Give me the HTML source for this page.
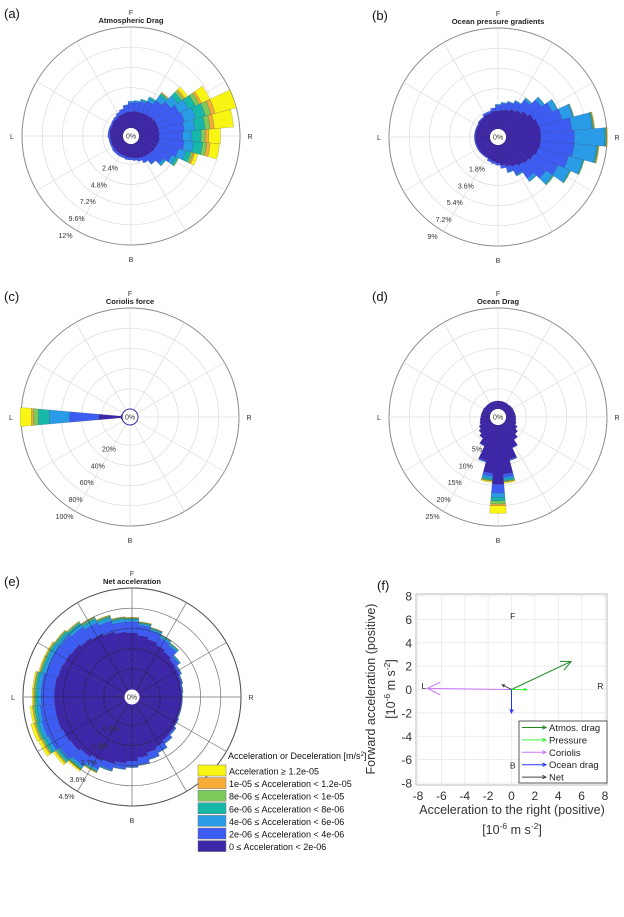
<!DOCTYPE html>
<html><head><meta charset="utf-8">
<style>
html,body{margin:0;padding:0;background:#fff;}
svg{display:block;font-family:"Liberation Sans",Arial,sans-serif;}
</style></head>
<body>
<svg id="fig" width="624" height="917" viewBox="0 0 624 917">
  <g id="roses"></g>
  <g id="legend"></g>
  <g id="panelf"></g>
</svg>
<script>
// ---------- data ----------
const classColors = ["#3e26a8","#3d5cf2","#2a9be6","#17b7aa","#7dca5a","#f5ad37","#f8f514"];
const classLabels = ["Acceleration \u2265 1.2e-05","1e-05 \u2264 Acceleration < 1.2e-05","8e-06 \u2264 Acceleration < 1e-05","6e-06 \u2264 Acceleration < 8e-06","4e-06 \u2264 Acceleration < 6e-06","2e-06 \u2264 Acceleration < 4e-06","0 \u2264 Acceleration < 2e-06"];
const binCenters = [0,10,20,30,40,50,60,70,80,90,100,110,120,130,140,150,160,170,180,190,200,210,220,230,240,250,260,270,280,290,300,310,320,330,340,350];

// Panel a (percent per class per bin: dark, blue, lightblue, teal, green, orange, yellow)
const a0=[1.9,2,2,2.1,2.2,2.3,2.4,2.4,2.4,2.4,2.4,2.3,2.2,2.1,2,1.9,1.8,1.7,1.6,1.6,1.5,1.5,1.5,1.5,1.5,1.5,1.5,1.5,1.6,1.6,1.6,1.7,1.7,1.8,1.8,1.9];
const a1=[1.1,1.1,1.3,1.5,2,2.5,3,3.2,3,2.8,3,2.6,2.2,1.6,1.1,0.7,0.4,0.3,0.3,0.3,0.3,0.3,0.3,0.3,0.2,0.2,0.2,0.3,0.2,0.2,0.2,0.2,0.3,0.4,0.6,0.8];
const a2=[0.2,0.2,0.2,0.4,0.7,1,1.2,1.4,1.3,1.1,1.1,0.9,0.5,0.3,0.1,0,0,0,0,0,0,0,0,0,0,0,0,0,0,0,0,0,0,0,0,0.1];
const a3=[0,0,0.1,0.2,0.3,0.6,0.9,1.2,1.2,1.1,1.1,0.6,0.3,0.1,0,0,0,0,0,0,0,0,0,0,0,0,0,0,0,0,0,0,0,0,0,0];
const a4=[0,0,0,0,0.1,0.3,0.5,0.7,0.6,0.5,0.5,0.3,0.1,0,0,0,0,0,0,0,0,0,0,0,0,0,0,0,0,0,0,0,0,0,0,0];
const a5=[0,0,0,0,0.1,0.2,0.3,0.5,0.5,0.4,0.4,0.2,0,0,0,0,0,0,0,0,0,0,0,0,0,0,0,0,0,0,0,0,0,0,0,0];
const a6=[0,0,0,0,0,0.4,1.1,2.6,2.3,1.4,1.1,0.4,0,0,0,0,0,0,0,0,0,0,0,0,0,0,0,0,0,0,0,0,0,0,0,0];
// Panel b
const b0=[1.6,1.7,1.8,2,2.2,2.5,2.8,3,3.1,3.1,3.1,3,2.8,2.6,2.4,2.2,2,1.8,1.6,1.5,1.4,1.3,1.3,1.3,1.3,1.3,1.3,1.3,1.3,1.3,1.3,1.4,1.4,1.5,1.5,1.6];
const b1=[0.5,0.6,0.7,0.8,1.1,1.5,1.8,2.2,2.8,3,3,2.8,2.4,1.9,1.4,0.8,0.5,0.3,0.2,0.2,0.2,0.1,0.1,0.1,0.1,0.1,0.1,0.1,0.1,0.1,0.1,0.1,0.1,0.2,0.2,0.3];
const b2=[0.1,0.1,0.1,0.1,0.2,0.3,0.5,1,1.8,2.7,2,1.3,1.1,0.7,0.3,0.1,0.1,0,0,0,0,0,0,0,0,0,0,0,0,0,0,0,0,0,0,0];
const b3=[0,0,0,0,0.05,0.05,0.05,0.05,0.1,0.1,0.1,0.1,0.1,0.1,0.05,0.05,0,0,0,0,0,0,0,0,0,0,0,0,0,0,0,0,0,0,0,0];
const b4=[0,0,0,0,0,0,0,0.05,0.05,0.05,0.05,0.05,0.05,0.05,0,0,0,0,0,0,0,0,0,0,0,0,0,0,0,0,0,0,0,0,0,0];
const b5=[0,0,0,0,0,0,0,0,0.05,0.05,0.05,0,0,0,0,0,0,0,0,0,0,0,0,0,0,0,0,0,0,0,0,0,0,0,0,0];
const b6=[0,0,0,0,0,0,0,0,0.05,0.05,0.05,0,0,0,0,0,0,0,0,0,0,0,0,0,0,0,0,0,0,0,0,0,0,0,0,0];
// Panel c
const c0=[0,0,0,0,0,0,0,0,0,0,0,0,0,0,0,0,0,0,0,0,0,0,0,0,0,0,1.2,23,1.2,0,0,0,0,0,0,0];
const c1=[0,0,0,0,0,0,0,0,0,0,0,0,0,0,0,0,0,0,0,0,0,0,0,0,0,0,0,29,0,0,0,0,0,0,0,0];
const c2=[0,0,0,0,0,0,0,0,0,0,0,0,0,0,0,0,0,0,0,0,0,0,0,0,0,0,0,20,0,0,0,0,0,0,0,0];
const c3=[0,0,0,0,0,0,0,0,0,0,0,0,0,0,0,0,0,0,0,0,0,0,0,0,0,0,0,11,0,0,0,0,0,0,0,0];
const c4=[0,0,0,0,0,0,0,0,0,0,0,0,0,0,0,0,0,0,0,0,0,0,0,0,0,0,0,5,0,0,0,0,0,0,0,0];
const c5=[0,0,0,0,0,0,0,0,0,0,0,0,0,0,0,0,0,0,0,0,0,0,0,0,0,0,0,2,0,0,0,0,0,0,0,0];
const c6=[0,0,0,0,0,0,0,0,0,0,0,0,0,0,0,0,0,0,0,0,0,0,0,0,0,0,0,11,0,0,0,0,0,0,0,0];
// Panel d
const d0=[2,2,2,2,2,2.1,2.2,2.2,2.3,2.4,2.5,2.7,3.2,3.9,4.8,6.3,8.8,12.2,14.7,12,9.2,5.8,4.4,3.7,3.1,2.7,2.5,2.3,2.2,2.1,2.1,2,2,2,2,2];
const d1=[0,0,0,0,0,0,0,0,0,0,0,0,0.1,0.1,0.1,0.2,0.3,0.8,2.2,0.8,0.3,0.2,0.1,0.1,0.1,0,0,0,0,0,0,0,0,0,0,0];
const d2=[0,0,0,0,0,0,0,0,0,0,0,0,0,0,0,0,0.1,0.5,1.1,0.5,0.1,0,0,0,0,0,0,0,0,0,0,0,0,0,0,0];
const d3=[0,0,0,0,0,0,0,0,0,0,0,0,0,0,0,0,0,0.4,0.8,0.4,0,0,0,0,0,0,0,0,0,0,0,0,0,0,0,0];
const d4=[0,0,0,0,0,0,0,0,0,0,0,0,0,0,0,0,0,0.2,0.8,0.2,0,0,0,0,0,0,0,0,0,0,0,0,0,0,0,0];
const d5=[0,0,0,0,0,0,0,0,0,0,0,0,0,0,0,0,0,0.1,0.4,0.1,0,0,0,0,0,0,0,0,0,0,0,0,0,0,0,0];
const d6=[0,0,0,0,0,0,0,0,0,0,0,0,0,0,0,0,0,0.3,1.9,0.3,0,0,0,0,0,0,0,0,0,0,0,0,0,0,0,0];
// Panel e
const e0=[2.5,2.4,2.3,2.2,2.1,2.0,1.95,1.9,1.85,1.85,1.85,1.85,1.9,1.95,2.0,2.1,2.2,2.35,2.5,2.6,2.7,2.8,2.9,3.0,3.05,3.1,3.1,3.1,3.1,3.05,3.0,2.95,2.85,2.75,2.65,2.55];
const e1=[0.5,0.45,0.4,0.35,0.35,0.2,0.1,0.05,0.05,0.03,0.03,0.03,0.03,0.07,0.15,0.25,0.3,0.3,0.25,0.25,0.3,0.4,0.5,0.55,0.7,0.7,0.65,0.6,0.6,0.55,0.6,0.6,0.6,0.55,0.5,0.45];
const e2=[0.1,0.08,0.08,0.08,0.08,0.05,0.03,0.03,0.02,0.02,0.02,0.02,0.02,0.02,0.03,0.03,0.03,0.03,0.03,0.03,0.05,0.08,0.1,0.12,0.15,0.15,0.15,0.15,0.15,0.15,0.15,0.15,0.15,0.15,0.14,0.12];
const e3=[0.04,0.04,0.04,0.04,0.04,0.03,0.01,0.01,0.01,0,0,0,0,0.01,0.01,0.01,0.01,0.01,0.01,0.01,0.02,0.04,0.06,0.08,0.1,0.1,0.1,0.1,0.1,0.09,0.09,0.09,0.09,0.08,0.07,0.06];
const e4=[0.02,0.02,0.02,0.02,0.02,0.01,0,0,0,0,0,0,0,0,0,0,0,0,0,0,0.01,0.02,0.04,0.05,0.06,0.06,0.06,0.05,0.05,0.04,0.04,0.04,0.04,0.03,0.03,0.02];
const e5=[0.02,0.01,0.01,0.01,0.01,0,0,0,0,0,0,0,0,0,0,0,0,0,0,0,0,0.02,0.03,0.04,0.05,0.05,0.04,0.04,0.03,0.03,0.03,0.02,0.02,0.02,0.02,0.02];
const e6=[0.02,0.02,0.01,0,0,0,0,0,0,0,0,0,0,0,0,0,0,0,0,0,0,0.03,0.07,0.1,0.14,0.15,0.1,0.06,0.06,0.05,0.04,0.02,0.02,0.02,0.02,0.02];

const ringTicksA=["2.4%","4.8%","7.2%","9.6%","12%"];
const ringTicksB=["1.8%","3.6%","5.4%","7.2%","9%"];
const ringTicksC=["20%","40%","60%","80%","100%"];
const ringTicksD=["5%","10%","15%","20%","25%"];
const ringTicksE=["0.9%","1.8%","2.7%","3.6%","4.5%"];
const ringMax=[12,9,100,25,4.5];

// Panel f vectors (10^-6 m s^-2)
const vecNames=["Atmos. drag","Pressure","Coriolis","Ocean drag","Net"];
const vecX=[5.1,1.3,-7.2,0,-0.8];
const vecY=[2.4,0,0.1,-2.0,0.4];
const vecColors=["#1f8a22","#3cf03c","#cc77ff","#2233ff","#444444"];
const fTicks=[-8,-6,-4,-2,0,2,4,6,8];

// ---------- drawing ----------
const NS="http://www.w3.org/2000/svg";
function mk(tag,parent){const e=document.createElementNS(NS,tag);parent.appendChild(e);return e;}
function pt(cx,cy,r,deg){const t=deg*Math.PI/180;return [cx+r*Math.sin(t),cy-r*Math.cos(t)];}
function sector(cx,cy,r0,r1,a0,a1){
  const p1=pt(cx,cy,r1,a0),p2=pt(cx,cy,r1,a1),p3=pt(cx,cy,r0,a1),p4=pt(cx,cy,r0,a0);
  return `M${p1[0]},${p1[1]}A${r1},${r1} 0 0 1 ${p2[0]},${p2[1]}L${p3[0]},${p3[1]}A${r0},${r0} 0 0 0 ${p4[0]},${p4[1]}Z`;
}
const roses=document.getElementById('roses');
const panels=[
 {id:"a",cx:131,cy:136,title:"Atmospheric Drag",cls:[a0,a1,a2,a3,a4,a5,a6],ticks:ringTicksA,max:ringMax[0],lx:4,ly:18,gridTop:false},
 {id:"b",cx:498,cy:137,title:"Ocean pressure gradients",cls:[b0,b1,b2,b3,b4,b5,b6],ticks:ringTicksB,max:ringMax[1],lx:372,ly:20,gridTop:false},
 {id:"c",cx:130,cy:417,title:"Coriolis force",cls:[c0,c1,c2,c3,c4,c5,c6],ticks:ringTicksC,max:ringMax[2],lx:4,ly:301,gridTop:false},
 {id:"d",cx:498,cy:417,title:"Ocean Drag",cls:[d0,d1,d2,d3,d4,d5,d6],ticks:ringTicksD,max:ringMax[3],lx:372,ly:301,gridTop:false},
 {id:"e",cx:132,cy:697,title:"Net acceleration",cls:[e0,e1,e2,e3,e4,e5,e6],ticks:ringTicksE,max:ringMax[4],lx:4,ly:586,gridTop:true}
];
const R=109, HOLE=8;
panels.forEach(P=>{
  const g=mk('g',roses);
  
  
  const scale=v=>v/P.max*(R-HOLE);
  function grid(parent,color,outer){
    for(let k=1;k<=5;k++){
      const c=mk('circle',parent);
      c.setAttribute('cx',P.cx);c.setAttribute('cy',P.cy);c.setAttribute('r',HOLE+k*(R-HOLE)/5);
      c.setAttribute('fill','none');c.setAttribute('stroke',(k==5&&outer)?'#8a8a8a':color);c.setAttribute('stroke-width',k==5?1:0.7);
      
      
    }
    for(let a=0;a<360;a+=30){
      const p0=pt(P.cx,P.cy,HOLE,a),p1=pt(P.cx,P.cy,R,a);
      const l=mk('line',parent);
      l.setAttribute('x1',p0[0]);l.setAttribute('y1',p0[1]);l.setAttribute('x2',p1[0]);l.setAttribute('y2',p1[1]);
      l.setAttribute('stroke',color);l.setAttribute('stroke-width',0.7);
      
      
    }
  }
  const gg=mk('g',g);  
  grid(gg,'#dcdcdc',true);
  const bars=mk('g',g);  
  binCenters.forEach((ang,i)=>{
    let cum=0;
    P.cls.forEach((arr,k)=>{
      const v=arr[i]; if(!v) return;
      const r0=HOLE+scale(cum), r1=HOLE+scale(cum+v); cum+=v;
      const s=mk('path',bars);
      s.setAttribute('d',sector(P.cx,P.cy,r0,r1,ang-5,ang+5));
      s.setAttribute('fill',classColors[k]);
      s.setAttribute('stroke','rgba(30,20,60,0.35)');s.setAttribute('stroke-width',0.4);
      
      
    });
  });
  if(P.gridTop){const gt=mk('g',g);gt.setAttribute('opacity','0.55');grid(gt,'#222',false);}
  const hole=mk('circle',g);
  hole.setAttribute('cx',P.cx);hole.setAttribute('cy',P.cy);hole.setAttribute('r',HOLE);
  hole.setAttribute('fill','#fff');hole.setAttribute('stroke',(P.id=='c'||P.id=='e')?'#3e26a8':'none');
  
  
  function txt(x,y,s,size,extra){const t=mk('text',g);t.setAttribute('x',x);t.setAttribute('y',y);t.setAttribute('font-size',size);t.setAttribute('fill','#333');t.setAttribute('text-anchor','middle');if(extra)for(const k in extra)t.setAttribute(k,extra[k]);t.textContent=s;return t;}
  let t=txt(P.cx,P.cy+2.5,"0%",7);  
  t=txt(P.cx,P.cy-R-12,"F",7);  
  t=txt(P.cx,P.cy+R+17,"B",7);  
  t=txt(P.cx-R-10,P.cy+3,"L",7);  
  t=txt(P.cx+R+10,P.cy+3,"R",7);  
  t=txt(P.cx,P.cy-R-4,P.title,7.5,{'font-weight':'bold','fill':'#222'});  
  t=txt(P.lx,P.ly,"("+P.id+")",13,{'text-anchor':'start','fill':'#111'});  
  P.ticks.forEach((s,k)=>{
    const rr=HOLE+(k+1)*(R-HOLE)/5+10;
    const p=[P.cx-0.55*rr,P.cy+0.83*rr];
    const tt=txt(p[0],p[1]+3,s,7);
    
    
  });
});

// legend
const lg=document.getElementById('legend');
(function(){
  const t=mk('text',lg);t.setAttribute('x',228);t.setAttribute('y',759);t.setAttribute('font-size',9);t.setAttribute('fill','#111');
  t.innerHTML='Acceleration or Deceleration [m/s<tspan dy="-3" font-size="6">2</tspan><tspan dy="3">]</tspan>';
  
  
  classLabels.forEach((s,k)=>{
    const y=765+k*12.6;
    const col=classColors[6-k];
    const r=mk('rect',lg);r.setAttribute('x',198);r.setAttribute('y',y);r.setAttribute('width',28);r.setAttribute('height',11);
    r.setAttribute('fill',col);r.setAttribute('stroke','#777');r.setAttribute('stroke-width',0.5);
    
    
    const tx=mk('text',lg);tx.setAttribute('x',229);tx.setAttribute('y',y+9.5);tx.setAttribute('font-size',9);tx.setAttribute('fill','#111');tx.textContent=s;
    
    
  });
})();

// panel f
const pf=document.getElementById('panelf');
(function(){
  const X0=418,X1=605,Y0=783,Y1=596;
  const sx=v=>X0+(v+8)/16*(X1-X0), sy=v=>Y0-(v+8)/16*(Y0-Y1);
  const bg=mk('rect',pf);bg.setAttribute('x',X0-2);bg.setAttribute('y',Y1-2);bg.setAttribute('width',X1-X0+4);bg.setAttribute('height',Y0-Y1+4);
  bg.setAttribute('fill','#fff');bg.setAttribute('stroke','#bbb');bg.setAttribute('stroke-width',1);
  
  
  fTicks.forEach(v=>{
    let l=mk('line',pf);l.setAttribute('x1',sx(v));l.setAttribute('x2',sx(v));l.setAttribute('y1',Y1-2);l.setAttribute('y2',Y0+2);l.setAttribute('stroke','#e6e6e6');l.setAttribute('stroke-width',0.7);
    
    
    l=mk('line',pf);l.setAttribute('y1',sy(v));l.setAttribute('y2',sy(v));l.setAttribute('x1',X0-2);l.setAttribute('x2',X1+2);l.setAttribute('stroke','#e6e6e6');l.setAttribute('stroke-width',0.7);
    
    
    let t=mk('text',pf);t.setAttribute('x',sx(v));t.setAttribute('y',Y0+17);t.setAttribute('font-size',12);t.setAttribute('text-anchor','middle');t.setAttribute('fill','#333');t.textContent=v;
    
    
    t=mk('text',pf);t.setAttribute('x',X0-6);t.setAttribute('y',sy(v)+4.5);t.setAttribute('font-size',12);t.setAttribute('text-anchor','end');t.setAttribute('fill','#333');t.textContent=v;
    
    
  });
  [["F",0.1,6.3],["B",0.1,-6.5],["L",-7.5,0.3],["R",7.6,0.3]].forEach(q=>{
    const t=mk('text',pf);t.setAttribute('x',sx(q[1]));t.setAttribute('y',sy(q[2])+3);t.setAttribute('font-size',8.5);t.setAttribute('text-anchor','middle');t.setAttribute('fill','#222');t.textContent=q[0];
    
    
  });
  function arrow(parent,x0,y0,x1,y1,col,head){
    const l=mk('line',parent);l.setAttribute('x1',x0);l.setAttribute('y1',y0);l.setAttribute('x2',x1);l.setAttribute('y2',y1);l.setAttribute('stroke',col);l.setAttribute('stroke-width',1);
    const ang=Math.atan2(y1-y0,x1-x0);
    const h=mk('polyline',parent);
    const a1=ang+Math.PI-0.45,a2=ang+Math.PI+0.45;
    h.setAttribute('points',`${x1+head*Math.cos(a1)},${y1+head*Math.sin(a1)} ${x1},${y1} ${x1+head*Math.cos(a2)},${y1+head*Math.sin(a2)}`);
    h.setAttribute('fill','none');h.setAttribute('stroke',col);h.setAttribute('stroke-width',1);
    return l;
  }
  vecNames.forEach((n,i)=>{
    const g=mk('g',pf);
    
    
    const len=Math.hypot(vecX[i],vecY[i]);
    arrow(g,sx(0),sy(0),sx(vecX[i]),sy(vecY[i]),vecColors[i],Math.max(3,len*2));
  });
  const lb=mk('rect',pf);lb.setAttribute('x',519);lb.setAttribute('y',721);lb.setAttribute('width',88);lb.setAttribute('height',62);lb.setAttribute('fill','#fff');lb.setAttribute('stroke','#333');lb.setAttribute('stroke-width',0.8);
  
  
  vecNames.forEach((n,i)=>{
    const y=727.5+i*12.4;
    const g=mk('g',pf);
    
    
    arrow(g,522,y,546,y,vecColors[i],4);
    const t=mk('text',g);t.setAttribute('x',549);t.setAttribute('y',y+3.5);t.setAttribute('font-size',9.5);t.setAttribute('fill','#222');t.textContent=n;
  });
  let t=mk('text',pf);t.setAttribute('x',512);t.setAttribute('y',814);t.setAttribute('font-size',12.5);t.setAttribute('text-anchor','middle');t.setAttribute('fill','#333');t.textContent='Acceleration to the right (positive)';
  
  
  t=mk('text',pf);t.setAttribute('x',512);t.setAttribute('y',834);t.setAttribute('font-size',12.5);t.setAttribute('text-anchor','middle');t.setAttribute('fill','#333');
  t.innerHTML='[10<tspan dy="-5" font-size="8.5">-6</tspan><tspan dy="5"> m s</tspan><tspan dy="-5" font-size="8.5">-2</tspan><tspan dy="5">]</tspan>';
  
  
  t=mk('text',pf);t.setAttribute('transform','translate(375,689) rotate(-90)');t.setAttribute('font-size',12.5);t.setAttribute('text-anchor','middle');t.setAttribute('fill','#333');t.textContent='Forward acceleration (positive)';
  
  
  t=mk('text',pf);t.setAttribute('transform','translate(395,689) rotate(-90)');t.setAttribute('font-size',12.5);t.setAttribute('text-anchor','middle');t.setAttribute('fill','#333');
  t.innerHTML='[10<tspan dy="-5" font-size="8.5">-6</tspan><tspan dy="5"> m s</tspan><tspan dy="-5" font-size="8.5">-2</tspan><tspan dy="5">]</tspan>';
  
  
  t=mk('text',pf);t.setAttribute('x',377);t.setAttribute('y',590);t.setAttribute('font-size',13);t.setAttribute('fill','#111');t.textContent='(f)';
  
  
})();
</script>
</body></html>
